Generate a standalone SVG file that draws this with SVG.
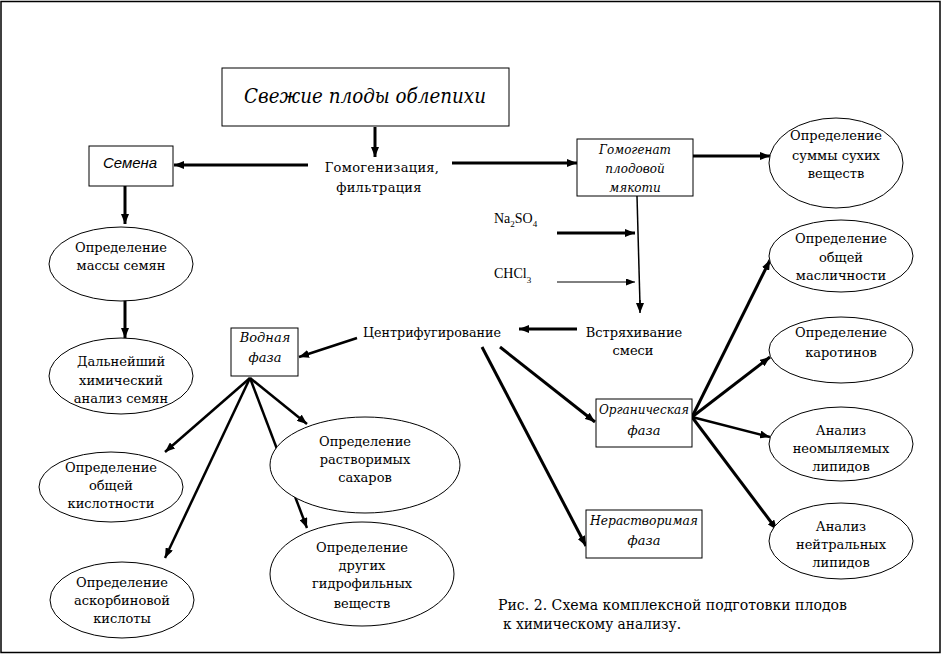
<svg xmlns="http://www.w3.org/2000/svg" width="943" height="655" viewBox="0 0 943 655">
<defs>
<marker id="ah" markerUnits="userSpaceOnUse" markerWidth="10" markerHeight="8" refX="10" refY="4" orient="auto">
<path d="M0,0 L10,4 L0,8 z" fill="#000"/>
</marker>
<marker id="ahs" markerUnits="userSpaceOnUse" markerWidth="9" markerHeight="7" refX="9" refY="3.5" orient="auto">
<path d="M0,0 L9,3.5 L0,7 z" fill="#000"/>
</marker>
</defs>
<style>
.bx{fill:#fff;stroke:#000;stroke-width:1}
.el{fill:#fff;stroke:#000;stroke-width:1}
.t{font-family:"DejaVu Serif","Liberation Serif",serif;font-size:13px;fill:#000;text-anchor:middle}
.ti{font-family:"DejaVu Serif","Liberation Serif",serif;font-size:12px;font-style:italic;fill:#000;text-anchor:middle}
.si{font-family:"Liberation Sans",Arial,sans-serif;font-size:15px;font-style:italic;fill:#000;text-anchor:middle}
.lat{font-family:"Liberation Serif","Times New Roman",serif;font-size:14px;fill:#000}
.c{stroke:#000;fill:none;stroke-width:3;marker-end:url(#ah)}
.c2{stroke:#000;fill:none;stroke-width:2.5;marker-end:url(#ah)}
.c1{stroke:#000;fill:none;stroke-width:1;marker-end:url(#ahs)}
.ln{stroke:#000;fill:none;stroke-width:1.5}
</style>
<rect x="1" y="1.5" width="939" height="651" fill="#fff" stroke="#000" stroke-width="1.5"/>

<g id="connectors">
<line class="c" x1="375" y1="127" x2="375" y2="157"/>
<line class="c" x1="308" y1="165" x2="174" y2="165"/>
<line class="c" x1="452" y1="163" x2="577" y2="163"/>
<line class="c" x1="693" y1="156" x2="770" y2="156"/>
<polyline class="ln" points="637,196 640,305"/>
<line class="ln" x1="640" y1="300" x2="640" y2="313" style="marker-end:url(#ah)"/>
<line class="c" x1="557" y1="233" x2="635" y2="233"/>
<line class="c1" x1="557" y1="282" x2="635" y2="282"/>
<line class="c" x1="577" y1="329" x2="519" y2="329"/>
<line class="c2" x1="357" y1="338" x2="299" y2="357"/>
<line class="c" x1="500" y1="347" x2="595" y2="422"/>
<line class="c" x1="482" y1="347" x2="586" y2="546"/>
<line class="c" x1="125" y1="186" x2="125" y2="224"/>
<line class="c" x1="125" y1="300" x2="125" y2="338"/>
<line class="c2" x1="250" y1="378" x2="165" y2="452"/>
<line class="c2" x1="250" y1="378" x2="165" y2="558"/>
<line class="c2" x1="250" y1="378" x2="307" y2="424"/>
<line class="c2" x1="250" y1="378" x2="307" y2="528"/>
<line class="c" x1="692" y1="417" x2="770" y2="260"/>
<line class="c" x1="692" y1="417" x2="770" y2="357"/>
<line class="c2" x1="692" y1="417" x2="770" y2="437"/>
<line class="c" x1="692" y1="417" x2="777" y2="530"/>
</g>

<g id="n-fresh">
<rect class="bx" x="222" y="68" width="287" height="58"/>
<text class="ti" x="365" y="103" style="font-size:21px" textLength="242" lengthAdjust="spacingAndGlyphs">Свежие плоды облепихи</text>
</g>

<g id="n-homog">
<text class="t" x="382" y="172" style="letter-spacing:0.3px">Гомогенизация,</text>
<text class="t" x="379" y="192" style="letter-spacing:0.3px">фильтрация</text>
</g>

<g id="n-seeds">
<rect class="bx" x="89" y="146" width="84" height="40"/>
<text class="si" x="130" y="168">Семена</text>
</g>

<g id="n-homogenate">
<rect class="bx" x="577" y="139" width="116" height="57"/>
<text class="ti" x="635" y="154">Гомогенат</text>
<text class="ti" x="635" y="173">плодовой</text>
<text class="ti" x="635" y="192">мякоти</text>
</g>

<g id="n-dry">
<ellipse class="el" cx="836" cy="163" rx="67" ry="45"/>
<text class="t" x="836" y="140">Определение</text>
<text class="t" x="836" y="160">суммы сухих</text>
<text class="t" x="836" y="178">веществ</text>
</g>

<g id="n-na2so4">
<text class="lat" x="494" y="223">Na<tspan font-size="9" dy="4">2</tspan><tspan dy="-4">SO</tspan><tspan font-size="9" dy="4">4</tspan></text>
</g>
<g id="n-chcl3">
<text class="lat" x="494" y="278">CHCl<tspan font-size="9" dy="5">3</tspan></text>
</g>

<g id="n-shake">
<text class="t" x="634" y="337">Встряхивание</text>
<text class="t" x="633" y="355">смеси</text>
</g>

<g id="n-centr">
<text class="t" x="432" y="337" textLength="138" lengthAdjust="spacingAndGlyphs">Центрифугирование</text>
</g>

<g id="n-water">
<rect class="bx" x="231" y="328" width="67" height="48"/>
<text class="ti" x="265" y="342" style="font-size:13px">Водная</text>
<text class="ti" x="265" y="362" style="font-size:13px">фаза</text>
</g>

<g id="n-organic">
<rect class="bx" x="596" y="399" width="96" height="48"/>
<text class="ti" x="644" y="414" textLength="90" lengthAdjust="spacingAndGlyphs">Органическая</text>
<text class="ti" x="644" y="435" style="font-size:13px">фаза</text>
</g>

<g id="n-insol">
<rect class="bx" x="586" y="510" width="116" height="48"/>
<text class="ti" x="644" y="525" style="font-size:13px" textLength="108" lengthAdjust="spacingAndGlyphs">Нерастворимая</text>
<text class="ti" x="644" y="545" style="font-size:13px">фаза</text>
</g>

<g id="n-mass">
<ellipse class="el" cx="121" cy="264" rx="72" ry="37"/>
<text class="t" x="121" y="252">Определение</text>
<text class="t" x="121" y="270">массы семян</text>
</g>

<g id="n-further">
<ellipse class="el" cx="121" cy="376" rx="72" ry="38"/>
<text class="t" x="121" y="366">Дальнейший</text>
<text class="t" x="121" y="385">химический</text>
<text class="t" x="121" y="403">анализ семян</text>
</g>

<g id="n-acid">
<ellipse class="el" cx="111" cy="487" rx="72" ry="35"/>
<text class="t" x="111" y="472">Определение</text>
<text class="t" x="111" y="490">общей</text>
<text class="t" x="111" y="508">кислотности</text>
</g>

<g id="n-ascorb">
<ellipse class="el" cx="122" cy="600" rx="72" ry="38"/>
<text class="t" x="122" y="587">Определение</text>
<text class="t" x="122" y="605">аскорбиновой</text>
<text class="t" x="122" y="623">кислоты</text>
</g>

<g id="n-sugar">
<ellipse class="el" cx="365" cy="465" rx="95" ry="48"/>
<text class="t" x="365" y="446">Определение</text>
<text class="t" x="365" y="464">растворимых</text>
<text class="t" x="365" y="482">сахаров</text>
</g>

<g id="n-hydro">
<ellipse class="el" cx="362" cy="574" rx="92" ry="52"/>
<text class="t" x="362" y="552">Определение</text>
<text class="t" x="362" y="570">других</text>
<text class="t" x="362" y="588">гидрофильных</text>
<text class="t" x="362" y="608">веществ</text>
</g>

<g id="n-oil">
<ellipse class="el" cx="841" cy="256" rx="72" ry="36"/>
<text class="t" x="841" y="243">Определение</text>
<text class="t" x="841" y="262">общей</text>
<text class="t" x="841" y="280">масличности</text>
</g>

<g id="n-carot">
<ellipse class="el" cx="841" cy="350" rx="72" ry="33"/>
<text class="t" x="841" y="337">Определение</text>
<text class="t" x="841" y="357">каротинов</text>
</g>

<g id="n-unsap">
<ellipse class="el" cx="841" cy="444" rx="72" ry="37"/>
<text class="t" x="841" y="435">Анализ</text>
<text class="t" x="841" y="453">неомыляемых</text>
<text class="t" x="841" y="471">липидов</text>
</g>

<g id="n-neutral">
<ellipse class="el" cx="841" cy="541" rx="72" ry="38"/>
<text class="t" x="841" y="531">Анализ</text>
<text class="t" x="841" y="549">нейтральных</text>
<text class="t" x="841" y="567">липидов</text>
</g>

<g id="caption">
<text class="t" x="498" y="610" style="text-anchor:start;font-size:14px" textLength="349" lengthAdjust="spacingAndGlyphs">Рис. 2. Схема комплексной подготовки плодов</text>
<text class="t" x="503" y="629" style="text-anchor:start;font-size:14px" textLength="178" lengthAdjust="spacingAndGlyphs">к химическому анализу.</text>
</g>
</svg>
